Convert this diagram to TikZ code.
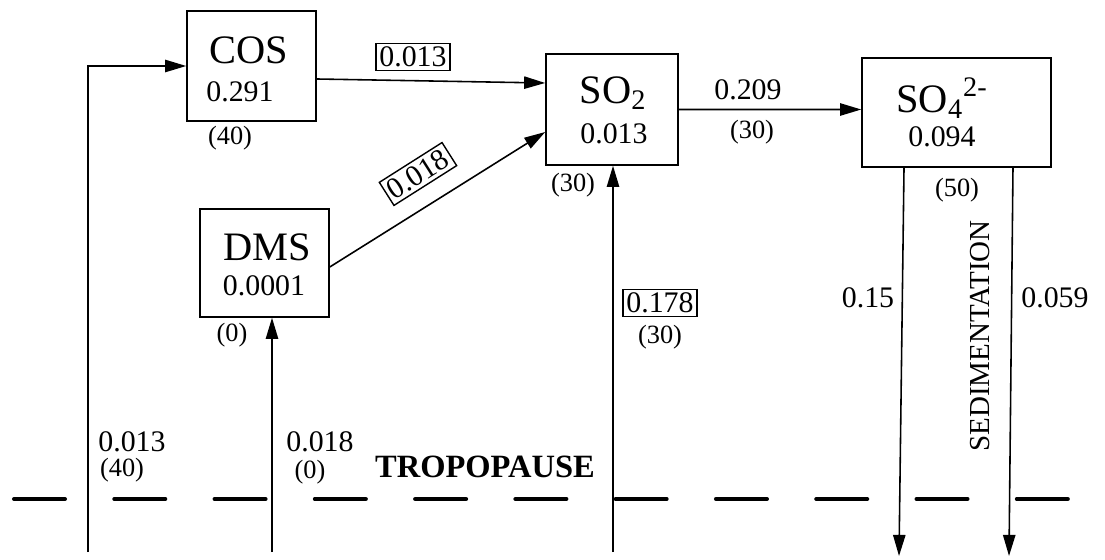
\documentclass[tikz,border=0pt]{standalone}
\usepackage{fontspec}
\setmainfont{Liberation Serif}
\usetikzlibrary{arrows.meta}
\begin{document}
\begin{tikzpicture}[x=0.02cm,y=-0.02cm,
  box/.style={draw,line width=0.9pt,inner sep=0pt},
  conn/.style={line width=0.9pt,-{Triangle[length=12pt,width=7pt]}},
  big/.style={font=\fontsize{23}{25}\selectfont,inner sep=0pt},
  val/.style={font=\fontsize{17}{19}\selectfont,inner sep=0pt},
  lab/.style={font=\fontsize{17}{19}\selectfont,inner sep=0pt},
  res/.style={font=\fontsize{15}{17}\selectfont,inner sep=0pt},
  boxlab/.style={font=\fontsize{17}{19}\selectfont,draw,line width=0.8pt,inner sep=2pt},
  tropo/.style={line width=2.3pt,dash pattern=on 1.02cm off 0.986cm,line cap=round},
]
\path[use as bounding box] (0,0) rectangle (1105,560);

% boxes
\node[box,minimum width=2.58cm,minimum height=2.2cm] (cos) at (251.5,66) {};
\node[box,minimum width=2.64cm,minimum height=2.22cm] (so2) at (612,109.5) {};
\node[box,minimum width=3.78cm,minimum height=2.18cm] (so4) at (956.5,112.5) {};
\node[box,minimum width=2.58cm,minimum height=2.16cm] (dms) at (264.5,263) {};

% box texts
\node[big] (cosname) at (249,50) {COS};
\node[val] (cosval) at (240,92) {0.291};
\node[res] (cosres) at (230,138) {(40)};

\node[big] (so2name) at (613,93) {SO\textsubscript{2}};
\node[val] (so2val) at (614,134) {0.013};
\node[res] (so2res) at (573,185) {(30)};

\node[big] (so4name) at (942,98) {SO\textsubscript{4}\textsuperscript{2-}};
\node[val] (so4val) at (942,137) {0.094};
\node[res] (so4res) at (957,190) {(50)};

\node[big] (dmsname) at (267,247) {DMS};
\node[val] (dmsval) at (264,286) {0.0001};
\node[res] (dmsres) at (232,335) {(0)};

% tropopause
\coordinate (t0) at (14,499);
\coordinate (t1) at (1068,499);
\draw[tropo] (t0) -- (t1);
\node[font=\bfseries\fontsize{18.5}{20}\selectfont,inner sep=0pt] (tropolab) at (485,467) {TROPOPAUSE};

% connectors
\coordinate (l0) at (88,552);
\draw[conn] (l0) |- (cos.west);

\draw[conn] ([yshift=-0.26cm]cos.east) -- ([yshift=0.53cm]so2.west);
\node[boxlab] (f013) at (413,57) {0.013};

\draw[conn] ([yshift=-0.08cm]dms.east) -- ([yshift=-0.45cm]so2.west);
\node[boxlab,rotate=32.4] (f018) at (418,174) {0.018};

\draw[conn] (so2.east) -- ([yshift=0.06cm]so4.west);
\node[lab] (f209) at (748,90) {0.209};
\node[res] (r209) at (752,132) {(30)};

\coordinate (d0) at (272,552);
\draw[conn] (d0) -- (d0 |- dms.south);

\coordinate (s0) at (613,552);
\draw[conn] (s0) -- (s0 |- so2.south);
\node[boxlab] (f178) at (660,303) {0.178};
\node[res] (r178) at (660,337) {(30)};

\coordinate (e1) at (899,556);
\coordinate (e2) at (1009,556);
\draw[conn] ([xshift=-1.05cm]so4.south) -- (e1);
\draw[conn] ([xshift=1.13cm]so4.south) -- (e2);
\node[lab] (f15) at (868,298) {0.15};
\node[lab] (f059) at (1055,298) {0.059};
\node[font=\fontsize{16.5}{18}\selectfont,inner sep=0pt,rotate=90] (sed) at (980,336) {SEDIMENTATION};

% tropopause flux labels
\node[lab] (f013b) at (132,442) {0.013};
\node[res] (r40b) at (122,470) {(40)};
\node[lab] (f018b) at (320,442) {0.018};
\node[res] (r0b) at (310,472) {(0)};
\end{tikzpicture}
\end{document}
